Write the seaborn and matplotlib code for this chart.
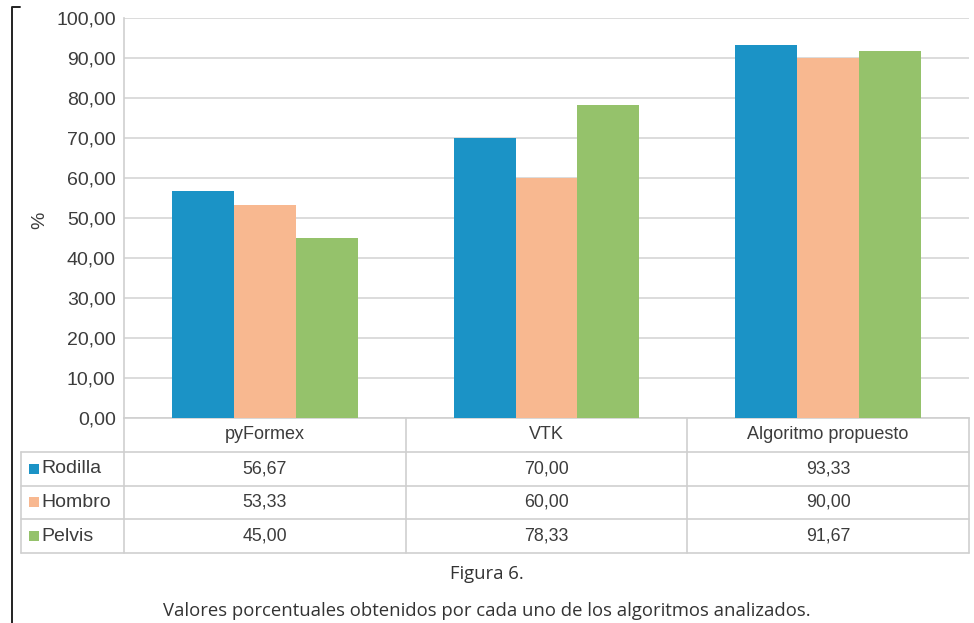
import matplotlib
matplotlib.use("Agg")
import matplotlib.pyplot as plt
from matplotlib.lines import Line2D
from matplotlib.patches import Rectangle
import seaborn as sns
import pandas as pd

# Data
algoritmos = ["pyFormex", "VTK", "Algoritmo propuesto"]
zonas = ["Rodilla", "Hombro", "Pelvis"]
rodilla = [56.67, 70.00, 93.33]
hombro = [53.33, 60.00, 90.00]
pelvis = [45.00, 78.33, 91.67]
colores = ["#1b93c6", "#f8b890", "#95c26b"]
yticks = [0, 10, 20, 30, 40, 50, 60, 70, 80, 90, 100]

valores = {"Rodilla": rodilla, "Hombro": hombro, "Pelvis": pelvis}
df = pd.DataFrame(
    [(a, z, valores[z][i]) for z in zonas for i, a in enumerate(algoritmos)],
    columns=["algoritmo", "zona", "valor"],
)

def fmt(v):
    return f"{v:.2f}".replace(".", ",")

sns.set_theme(style="white")
plt.rcParams["font.family"] = ["Liberation Sans", "DejaVu Sans"]

W, H = 974, 623
fig = plt.figure(figsize=(W / 100, H / 100), dpi=100)
fig.patch.set_facecolor("white")

def fx(px):
    return px / W

def fy(py):
    return 1 - py / H

txt_col = "#3c3c3c"
line_col = "#cfcfcf"
fs_tick = 14
fs_head = 13
fs_val = 12.8
fs_leg = 14

# Chart area
x0, x1, ytop, ybot = 124, 969, 18, 418
ax = fig.add_axes([fx(x0), fy(ybot), fx(x1 - x0), (ybot - ytop) / H])
sns.barplot(data=df, x="algoritmo", y="valor", hue="zona", palette=colores,
            order=algoritmos, hue_order=zonas, width=0.66, gap=0,
            saturation=1, linewidth=0, legend=False, ax=ax, zorder=3)
ax.set_xlim(-0.5, 2.5)
ax.set_ylim(0, 100)
ax.set_yticks(yticks)
ax.set_yticklabels([fmt(t) for t in yticks], fontsize=fs_tick, color=txt_col)
ax.set_xticks([])
ax.set_xlabel("")
ax.set_ylabel("")
ax.tick_params(axis="y", length=0, pad=6)
ax.yaxis.grid(True, color="#d6d6d6", linewidth=1.2, zorder=0)
ax.set_axisbelow(True)
for s in ["top", "right"]:
    ax.spines[s].set_visible(False)
for s in ["left", "bottom"]:
    ax.spines[s].set_color(line_col)
    ax.spines[s].set_linewidth(1.2)

fig.text(fx(40), fy(220), "%", rotation=90, ha="center", va="center",
         fontsize=fs_tick, color=txt_col)

# Data table below the chart
tl, tt, tb = 21, 418, 553
tab = fig.add_axes([fx(tl), fy(tb), fx(x1 - tl), (tb - tt) / H])
px_per_unit = (x1 - x0) / 3
xl = -0.5 - (x0 - tl) / px_per_unit
tab.set_xlim(xl, 2.5)
tab.set_ylim(4, 0)
tab.axis("off")

def seg(xa, xb, ya, yb):
    tab.add_line(Line2D([xa, xb], [ya, yb], color=line_col, linewidth=1.2,
                        clip_on=False))

for r in [1, 2, 3, 4]:
    seg(xl, 2.5, r, r)
seg(xl, xl, 1, 4)
for c in [-0.5, 0.5, 1.5, 2.5]:
    seg(c, c, 0, 4)

for i, a in enumerate(algoritmos):
    tab.text(i, 0.5, a, ha="center", va="center", fontsize=fs_head,
             color=txt_col)

series = [rodilla, hombro, pelvis]
row_h = (tb - tt) / 4
for r, (z, vals, col) in enumerate(zip(zonas, series, colores), start=1):
    tab.add_patch(Rectangle((xl + 8 / px_per_unit, r + 0.5 - 5 / row_h),
                            10 / px_per_unit, 10 / row_h,
                            color=col, linewidth=0, clip_on=False))
    tab.text(xl + 20 / px_per_unit, r + 0.5, z, ha="left", va="center",
             fontsize=fs_leg, color=txt_col)
    for i, v in enumerate(vals):
        tab.text(i, r + 0.5, fmt(v), ha="center", va="center",
                 fontsize=fs_val, color=txt_col)

# Caption
cap_font = ["Open Sans", "DejaVu Sans"]
fig.text(fx(487), fy(574), "Figura 6.", ha="center", va="center",
         fontsize=13.3, color="#333333", family=cap_font)
fig.text(fx(487), fy(611),
         "Valores porcentuales obtenidos por cada uno de los algoritmos analizados.",
         ha="center", va="center", fontsize=13.3, color="#333333",
         family=cap_font)

# Left bracket
fig.add_artist(Line2D([fx(20), fx(12), fx(12)], [fy(7), fy(7), fy(623)],
                      color="#222222", linewidth=1.4))

fig.savefig("out.png", dpi=100, facecolor="white")
